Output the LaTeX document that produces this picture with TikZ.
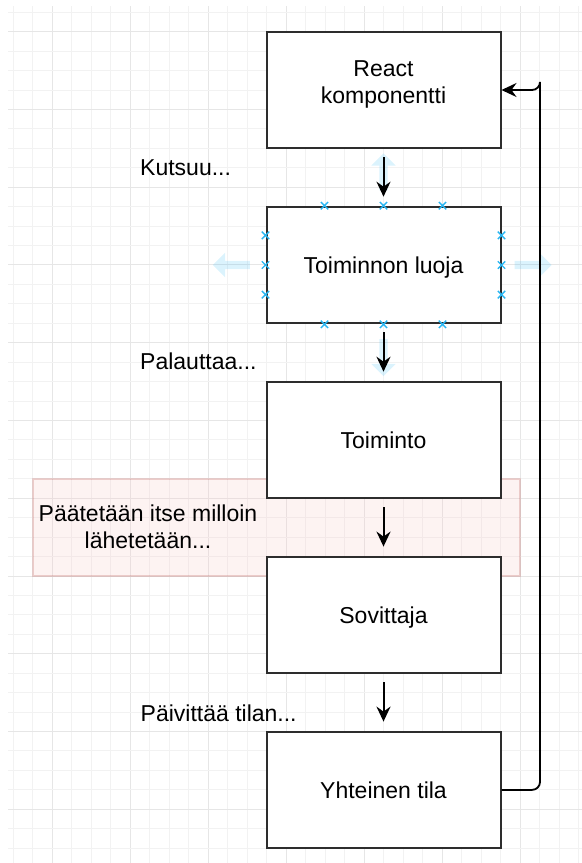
\documentclass[tikz,border=0pt]{standalone}
\usepackage{fontspec}
\setmainfont{Liberation Sans}
\usetikzlibrary{arrows.meta,calc,shapes.arrows,shapes.misc}
\definecolor{gridminor}{RGB}{242,242,242}
\definecolor{gridmajor}{RGB}{230,230,230}
\definecolor{hoverblue}{RGB}{41,182,242}
\definecolor{pinkfill}{RGB}{248,206,204}
\definecolor{pinkline}{RGB}{184,84,80}
\definecolor{boxline}{RGB}{45,45,45}
\tikzset{
  txt/.style={font=\fontsize{23bp}{26.6bp}\selectfont},
  box/.style={txt, draw=boxline, line width=2bp, fill=white,
    minimum width=234bp, minimum height=116.6bp, inner sep=0pt,
    text height=16.6bp, text depth=0pt},
  flow/.style={-{Stealth[length=15bp,width=14bp,inset=5bp]}, line width=2bp,
    black, shorten <=8bp, shorten >=9bp},
  ret/.style={-{Stealth[length=15bp,width=14bp,inset=5bp]}, line width=1.8bp,
    black, rounded corners=8bp},
  lbl/.style={txt, inner sep=0pt, anchor=base west},
  hover/.style={single arrow, draw=none, fill=hoverblue, fill opacity=0.17,
    inner sep=4bp, single arrow head extend=8bp, minimum height=37bp},
  cpt/.style={cross out, draw=hoverblue, line width=1.4bp, minimum size=6bp,
    inner sep=0pt},
}
\begin{document}
\begin{tikzpicture}[x=1bp,y=-1bp]
\useasboundingbox (0,0) rectangle (582,863);
% grid
\begin{scope}
  \clip (8,6) rectangle (582,863);
  \foreach \k in {-2,...,27} {
    \pgfmathsetmacro{\gx}{52+\k*19.5}
    \pgfmathtruncatemacro{\m}{mod(\k+8,4)}
    \ifnum\m=0
      \draw[gridmajor, line width=1bp] (\gx,0) -- (\gx,863);
    \else
      \draw[gridminor, line width=1bp] (\gx,0) -- (\gx,863);
    \fi
  }
  \foreach \k in {-1,...,43} {
    \pgfmathsetmacro{\gy}{31.7+\k*19.44}
    \pgfmathtruncatemacro{\m}{mod(\k+8,4)}
    \ifnum\m=0
      \draw[gridmajor, line width=1bp] (0,\gy) -- (582,\gy);
    \else
      \draw[gridminor, line width=1bp] (0,\gy) -- (582,\gy);
    \fi
  }
\end{scope}
% pink highlight
\node[draw=pinkline, draw opacity=0.25, fill=pinkfill, fill opacity=0.25,
  line width=1.2bp, minimum width=487bp, minimum height=97bp, inner sep=0pt]
  (hl) at (276.5,527.5) {};
% hover arrows
\node[hover, shape border rotate=90] (hu) at (383.5,174) {};
\node[hover, shape border rotate=180] (hl2) at (233.5,265) {};
\node[hover, shape border rotate=0] (hr) at (531,265) {};
\node[hover, shape border rotate=270] (hd) at (383.5,355.5) {};
% boxes
\node[box, align=center, text height=26.6bp, text depth=0pt] (b1) at (383.5,90) {React\\komponentti};
\node[box] (b2) at (383.5,265) {Toiminnon luoja};
\node[box] (b3) at (383.5,440) {Toiminto};
\node[box] (b4) at (383.5,614.9) {Sovittaja};
\node[box] (b5) at (383.5,789.9) {Yhteinen tila};
% connection points on b2
\node[cpt] (p1) at ($(b2.north west)!0.25!(b2.north east)$) {};
\node[cpt] (p2) at (b2.north) {};
\node[cpt] (p3) at ($(b2.north west)!0.75!(b2.north east)$) {};
\node[cpt] (p4) at ($(b2.south west)!0.25!(b2.south east)$) {};
\node[cpt] (p5) at (b2.south) {};
\node[cpt] (p6) at ($(b2.south west)!0.75!(b2.south east)$) {};
\node[cpt] (p7) at ($(b2.north west)!0.25!(b2.south west)$) {};
\node[cpt] (p8) at (b2.west) {};
\node[cpt] (p9) at ($(b2.north west)!0.75!(b2.south west)$) {};
\node[cpt] (p10) at ($(b2.north east)!0.25!(b2.south east)$) {};
\node[cpt] (p11) at (b2.east) {};
\node[cpt] (p12) at ($(b2.north east)!0.75!(b2.south east)$) {};
% flow arrows
\draw[flow] (b1) -- (b2);
\draw[flow] (b2) -- (b3);
\draw[flow] (b3) -- (b4);
\draw[flow] (b4) -- (b5);
% return connector
\coordinate (rc) at (540,90);
\draw[ret] (b5.east) -| (rc) |- (b1.east);
% labels
\node[lbl] (l1) at (140,175.5) {Kutsuu...};
\node[lbl] (l2) at (140,369.3) {Palauttaa...};
\node[txt, align=center, inner sep=0pt] (l3) at (148,526.6) {Päätetään itse milloin\\lähetetään...};
\node[lbl] (l4) at (140.5,721) {Päivittää tilan...};
\end{tikzpicture}
\end{document}
